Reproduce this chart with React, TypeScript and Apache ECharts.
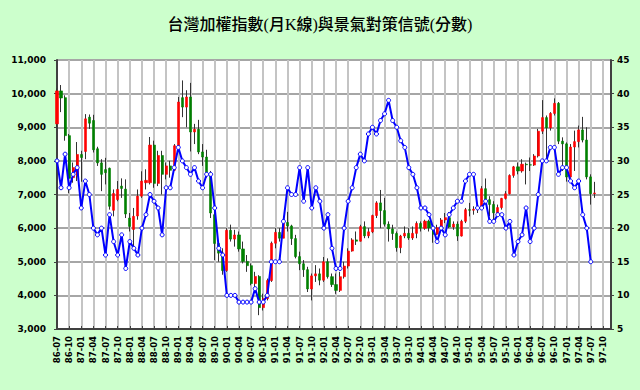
import React, { useEffect, useRef } from 'react';
import * as echarts from 'echarts';

const categories = [
  '86-07','86-08','86-09','86-10','86-11','86-12',
  '87-01','87-02','87-03','87-04','87-05','87-06','87-07','87-08','87-09','87-10','87-11','87-12',
  '88-01','88-02','88-03','88-04','88-05','88-06','88-07','88-08','88-09','88-10','88-11','88-12',
  '89-01','89-02','89-03','89-04','89-05','89-06','89-07','89-08','89-09','89-10','89-11','89-12',
  '90-01','90-02','90-03','90-04','90-05','90-06','90-07','90-08','90-09','90-10','90-11','90-12',
  '91-01','91-02','91-03','91-04','91-05','91-06','91-07','91-08','91-09','91-10','91-11','91-12',
  '92-01','92-02','92-03','92-04','92-05','92-06','92-07','92-08','92-09','92-10','92-11','92-12',
  '93-01','93-02','93-03','93-04','93-05','93-06','93-07','93-08','93-09','93-10','93-11','93-12',
  '94-01','94-02','94-03','94-04','94-05','94-06','94-07','94-08','94-09','94-10','94-11','94-12',
  '95-01','95-02','95-03','95-04','95-05','95-06','95-07','95-08','95-09','95-10','95-11','95-12',
  '96-01','96-02','96-03','96-04','96-05','96-06','96-07','96-08','96-09','96-10','96-11','96-12',
  '97-01','97-02','97-03','97-04','97-05','97-06','97-07','97-08','97-09','97-10','97-11','97-12'
];

const opens = [
  9100,10080,9880,8750,7500,7550,8190,8280,9300,9200,
  8360,7940,7740,7780,6530,6850,7250,7160,6300,5960,
  6360,6950,7350,7350,8470,7330,8160,7600,7850,7720,
  8450,9880,9600,9900,8860,8940,8265,8114,7616,6400,
  5544,5256,4739,5936,5674,5797,5381,5010,4883,4352,
  4563,3636,3903,4441,5551,5873,5700,6167,6065,5689,
  5153,4940,4764,4191,4579,4640,4452,5000,4556,4321,
  4148,4555,4872,5318,5650,5611,6045,5771,5890,6375,
  6750,6522,6117,5978,5840,5420,5765,5845,5706,5844,
  6140,5994,6207,6006,5818,6012,6242,6311,6033,6118,
  5764,6203,6548,6532,6562,6614,7172,6846,6704,6455,
  6611,6884,7021,7567,7823,7699,7901,7884,7875,8145,
  8883,9287,8982,9411,9711,8586,8506,7521,8412,8572,
  8920,8619,7524,7024
];

const closes = [
  10080,9870,8750,7480,7800,8190,8100,9250,9120,8330,
  7940,7600,7650,6650,7030,7150,7180,6420,6050,6350,
  6950,7400,7420,8470,7330,8160,7600,7850,7720,8450,
  9750,9600,9900,8860,8940,8265,8114,7616,6450,5544,
  5256,4739,5936,5674,5797,5381,5010,4883,4352,4563,
  3636,3903,4441,5551,5873,5700,6167,6065,5689,5153,
  4940,4764,4191,4579,4640,4452,5000,4556,4321,4148,
  4555,4872,5318,5650,5611,6045,5771,5890,6375,6750,
  6522,6117,5978,5840,5420,5765,5845,5706,5844,6140,
  5994,6207,6006,5818,6012,6242,6311,6033,6118,5764,
  6203,6548,6532,6562,6614,7172,6846,6704,6455,6611,
  6884,7021,7567,7823,7699,7901,7884,7875,8145,8883,
  9287,8982,9411,9711,8586,8506,7521,8412,8572,8920,
  8619,7524,7024,7046
];

const lows = [
  9000,9450,8600,7040,7350,7400,7380,8050,8950,8250,
  7850,7100,7300,6550,6350,6800,6900,6300,5900,5422,
  6250,6900,7150,7300,7200,7250,7000,7450,7500,7700,
  8400,9300,9000,8280,8500,8200,7850,7500,6300,5050,
  5000,4614,4700,5600,5450,5300,4950,4700,4300,4200,
  3411,3550,3850,4400,5400,5600,5700,5900,5500,5100,
  4750,4550,4100,3850,4400,4300,4400,4500,4250,4044,
  4100,4500,4800,5300,5500,5600,5700,5700,5850,6300,
  6000,6050,5600,5650,5300,5255,5700,5650,5650,5700,
  5900,5950,5900,5565,5800,6000,6150,6000,5950,5620,
  5750,6150,6350,6400,6450,6600,6700,6350,6232,6400,
  6550,6850,7000,7500,7600,7650,7300,7700,7850,8100,
  8800,7987,8900,9350,8500,7700,7384,7500,7700,8400,
  8550,7450,6700,6900
];

const highs = [
  10150,10256,9950,8800,7950,8560,8300,9390,9380,9370,
  8420,8050,8090,7800,7150,7400,7480,7450,6450,6600,
  7150,7690,7750,8710,8600,8300,8300,7950,8000,8500,
  9900,10393,10100,10320,9100,9220,8500,8330,7700,6500,
  5600,5400,6000,6104,5950,5900,5600,5200,4950,4700,
  4600,4050,4500,5600,6000,6000,6300,6484,6100,5800,
  5300,5050,4850,4650,4900,4800,5141,5100,4650,4650,
  4700,5000,5400,5700,5900,6100,6200,6000,6400,6800,
  7135,6900,6200,6100,5900,5800,6050,6000,6050,6200,
  6200,6250,6250,6050,6100,6300,6450,6480,6200,6200,
  6250,6600,6750,6650,6700,7250,7476,6950,6800,6700,
  6900,7100,7600,7850,7950,8050,7950,8100,8200,8950,
  9807,9350,9450,9859,9750,8700,8550,8500,8900,9050,
  9309,9000,7600,7376
];

const scores = [
  30,26,31,26,28,29,23,27,25,20,
  19,20,16,22,18,16,19,14,18,17,
  16,20,22,25,24,23,19,26,26,29,
  32,30,29,28,29,27,26,28,28,23,
  17,16,10,10,10,9,9,9,9,11,
  9,9,10,15,15,15,21,26,25,25,
  29,24,29,23,26,24,20,22,17,14,
  14,20,24,26,29,31,30,34,35,34,
  36,37,39,36,35,33,32,29,28,26,
  23,23,22,20,18,20,19,22,23,24,
  24,27,28,28,23,23,24,21,21,22,
  22,20,21,16,18,19,23,18,20,25,
  30,30,32,32,28,29,29,27,26,27,
  22,20,15
];

const titleText = '台灣加權指數(月K線)與景氣對策信號(分數)';

export default function App() {
  const ref = useRef<HTMLDivElement>(null);
  useEffect(() => {
    const chart = echarts.init(ref.current as HTMLDivElement, null, { renderer: 'svg' });
    const wickData = opens.map((o, i) => [o, closes[i], lows[i], highs[i]]);
    const bodyData = opens.map((o, i) => [o, closes[i], Math.min(o, closes[i]), Math.max(o, closes[i])]);
    const labelFont = "'DejaVu Sans', Verdana, sans-serif";
    const axisDark = '#404040';
    chart.setOption({
      animation: false,
      backgroundColor: '#ccffcc',
      title: {
        text: titleText,
        left: 'center',
        top: 11,
        textStyle: {
          fontSize: 16,
          fontWeight: 500,
          color: '#000',
          fontFamily: "'Liberation Serif', 'Noto Sans CJK TC', serif",
        },
      },
      grid: { left: 57, right: 29, top: 60, bottom: 61, show: true, backgroundColor: '#ffffff', borderWidth: 0 },
      xAxis: {
        type: 'category',
        data: categories,
        boundaryGap: false,
        axisLine: { lineStyle: { color: axisDark, width: 2 } },
        axisTick: { show: true, inside: true, interval: 2, length: 3, lineStyle: { color: axisDark, width: 1 } },
        axisLabel: {
          interval: 2,
          rotate: 90,
          margin: 7,
          fontSize: 8.5,
          fontWeight: 'bold',
          color: '#000',
          fontFamily: labelFont,
        },
        splitLine: { show: true, interval: 2, lineStyle: { color: '#c4c4c4', width: 2 } },
      },
      yAxis: [
        {
          type: 'value',
          min: 3000,
          max: 11000,
          interval: 1000,
          position: 'left',
          axisLine: { show: true, lineStyle: { color: axisDark, width: 2 } },
          axisTick: { show: true, length: 3, lineStyle: { color: axisDark } },
          axisLabel: {
            margin: 11,
            fontSize: 9,
            fontWeight: 'bold',
            color: '#000',
            fontFamily: labelFont,
            formatter: (v: number) => v.toLocaleString('en-US'),
          },
          splitLine: { show: true, lineStyle: { color: '#a6a6a6', width: 2 } },
        },
        {
          type: 'value',
          min: 5,
          max: 45,
          interval: 5,
          position: 'right',
          axisLine: { show: true, lineStyle: { color: axisDark, width: 2 } },
          axisTick: { show: true, length: 3, lineStyle: { color: axisDark } },
          axisLabel: {
            margin: 6,
            fontSize: 9,
            fontWeight: 'bold',
            color: '#000',
            fontFamily: labelFont,
          },
          splitLine: { show: false },
        },
      ],
      series: [
        {
          type: 'candlestick',
          name: 'wick',
          data: wickData,
          yAxisIndex: 0,
          barWidth: 0.5,
          itemStyle: {
            color: '#333333',
            color0: '#333333',
            borderColor: '#333333',
            borderColor0: '#333333',
            borderWidth: 1,
          },
        },
        {
          type: 'candlestick',
          name: 'body',
          data: bodyData,
          yAxisIndex: 0,
          barWidth: 2.6,
          itemStyle: {
            color: '#ff0000',
            color0: '#008000',
            borderColor: '#ff0000',
            borderColor0: '#008000',
            borderWidth: 0.6,
          },
        },
        {
          type: 'line',
          name: 'score',
          data: scores,
          yAxisIndex: 1,
          symbol: 'circle',
          symbolSize: 4,
          showAllSymbol: true,
          lineStyle: { color: '#0000ff', width: 2 },
          itemStyle: { color: '#ffffff', borderColor: '#0000ff', borderWidth: 1 },
          z: 5,
        },
      ],
    });
    return () => chart.dispose();
  }, []);
  return <div ref={ref} style={{ position: 'fixed', left: 0, top: 0, width: 640, height: 390 }} />;
}
